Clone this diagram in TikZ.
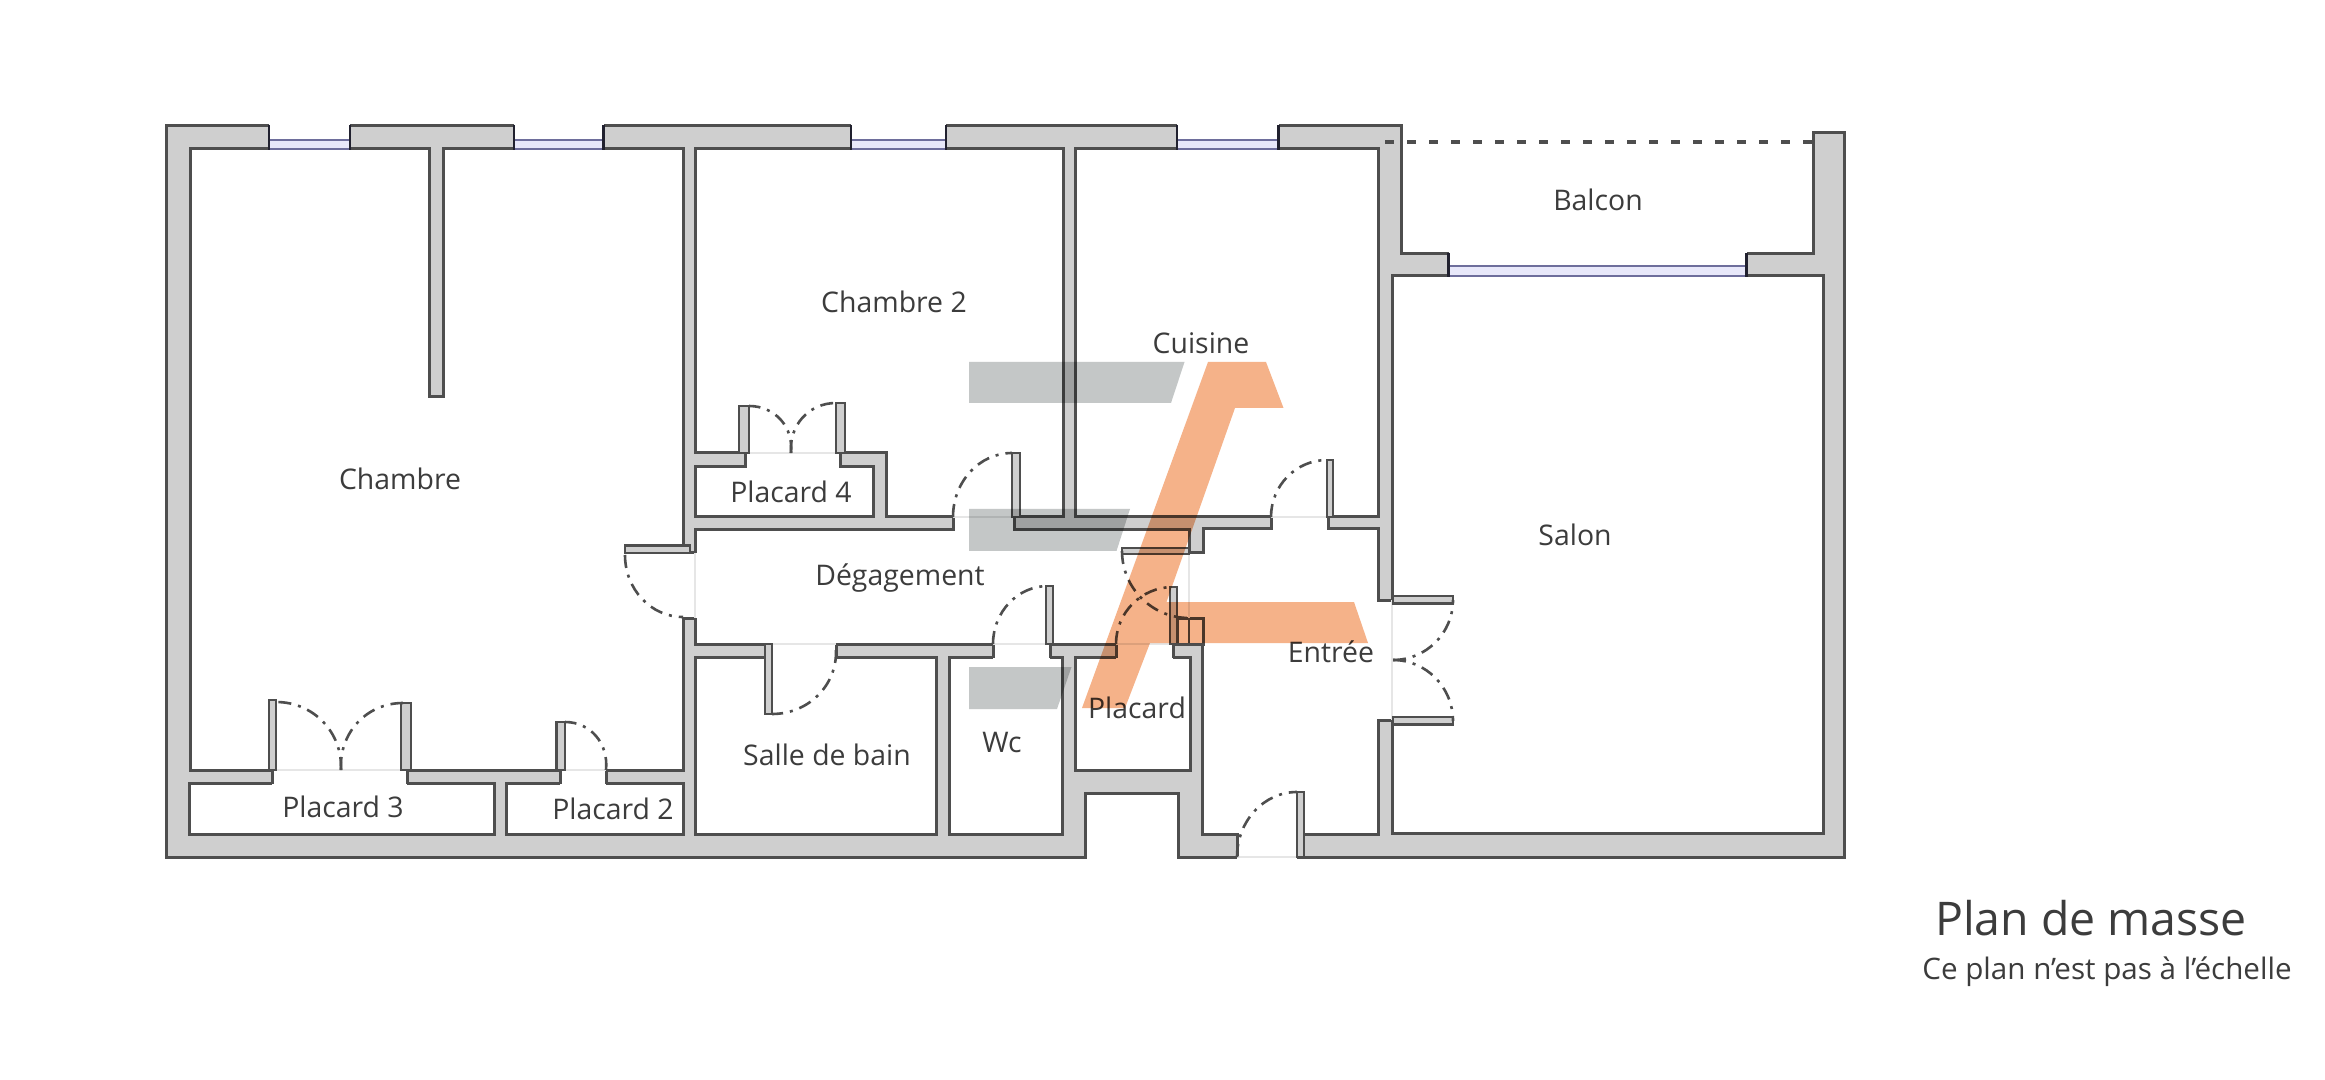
\documentclass[tikz,border=0pt]{standalone}
\usepackage{fontspec}
\setmainfont{Open Sans}
\usetikzlibrary{calc}
\definecolor{wallgray}{HTML}{CFCFCF}
\definecolor{wallink}{HTML}{4E4E4E}
\definecolor{winink}{HTML}{6E6E9C}
\definecolor{winfill}{HTML}{E8E8FA}
\definecolor{sillgray}{HTML}{E6E6E6}
\definecolor{logogray}{HTML}{C4C7C7}
\definecolor{logoorange}{HTML}{F5B289}
\definecolor{labelink}{HTML}{3C3C3C}
\tikzset{
  wallmass/.style={fill=wallgray,draw=wallink,line width=1.5pt,line join=miter},
  roomfloor/.style={fill=white,draw=wallink,line width=1.5pt,line join=miter},
  capline/.style={draw=wallink,line width=1.5pt,line cap=butt},
  sill/.style={draw=sillgray,line width=0.7pt},
  leafwall/.style={fill=wallgray,draw=wallink,line width=1.2pt},
  swing/.style={draw=wallink,line width=1.3pt,dash pattern=on 6.5pt off 3.5pt on 1.5pt off 3.5pt},
  pane/.style={fill=winfill,draw=winink,line width=1.1pt},
  wincap/.style={draw=black!70!winink,line width=1.2pt},
  balconyline/.style={draw=wallink,line width=1.8pt,dash pattern=on 4.5pt off 6.5pt},
  roomlabel/.style={text=labelink,font=\fontsize{14.2}{16}\selectfont,inner sep=0pt,anchor=center},
  titletext/.style={text=labelink,font=\fontsize{23.2}{26}\selectfont,inner sep=0pt,anchor=center},
  notetext/.style={text=labelink,font=\fontsize{14.8}{17}\selectfont,inner sep=0pt,anchor=center},
  logobar/.style={fill=logogray,draw=none,blend mode=multiply},
  logomark/.style={fill=logoorange,draw=none,blend mode=multiply},
}
% quarter-like door swing: centre, start, end
\newcommand{\doorswing}[6]{%
  \pgfmathsetmacro{\cax}{#3+0.5523*(#5-#1)}%
  \pgfmathsetmacro{\cay}{#4+0.5523*(#6-#2)}%
  \pgfmathsetmacro{\cbx}{#5+0.5523*(#3-#1)}%
  \pgfmathsetmacro{\cby}{#6+0.5523*(#4-#2)}%
  \draw[swing] (#3,#4) .. controls (\cax,\cay) and (\cbx,\cby) .. (#5,#6);%
}
\begin{document}
\begin{tikzpicture}[x=0.5pt,y=-0.5pt]
\useasboundingbox (0,0) rectangle (2325,1080);
\fill[white] (0,0) rectangle (2325,1080);
% wall mass
\path[wallmass] (166,126) -- (1401,126) -- (1401,254) -- (1813,254) -- (1813,133) -- (1844,133)
  -- (1844,857) -- (1178,857) -- (1178,793) -- (1085,793) -- (1085,857) -- (166,857) -- cycle;
% rooms
\path[roomfloor] (190,149) -- (429,149) -- (429,397) -- (443,397) -- (443,149) -- (683,149) -- (683,770) -- (190,770) -- cycle;
\path[roomfloor] (189,783) rectangle (494,834);
\path[roomfloor] (506,783) rectangle (683,834);
\path[roomfloor] (695,149) -- (1063,149) -- (1063,517) -- (886,517) -- (886,453) -- (695,453) -- cycle;
\path[roomfloor] (695,467) rectangle (873,517);
\path[roomfloor] (1075,149) rectangle (1378,517);
\path[roomfloor] (1392,276) rectangle (1823,833);
\path[roomfloor] (695,530) -- (1189,530) -- (1189,553) -- (1203,553) -- (1203,529) -- (1378,529) -- (1378,834)
  -- (1202,834) -- (1202,618) -- (1177,618) -- (1177,644) -- (695,644) -- cycle;
\path[roomfloor] (695,657) rectangle (936,834);
\path[roomfloor] (949,657) rectangle (1062,834);
\path[roomfloor] (1075,657) rectangle (1190,770);
% open frame box beside the Placard door
\path[roomfloor] (1177,618) rectangle (1203,644);
\draw[capline,line width=1pt] (1188.5,618) -- (1188.5,644);
% door openings in horizontal walls: x1/x2/y1/y2/sill y
\foreach \xa/\xb/\ya/\yb/\ys in {272/407/770/783/770, 560/606/770/783/770, 745/840/453/467/453,
    953/1014/517/530/517, 1271/1328/517/529/517, 771/836/644/657/644, 993/1050/644/657/644,
    1116/1173/644/657/644, 1237/1297/834/857/857}{
  \fill[white] (\xa,\ya-2) rectangle (\xb,\yb+2);
  \draw[capline] (\xa,\ya-1) -- (\xa,\yb+1);
  \draw[capline] (\xb,\ya-1) -- (\xb,\yb+1);
  \draw[sill] (\xa,\ys) -- (\xb,\ys);
}
% door openings in vertical walls: x1/x2/y1/y2/sill x
\foreach \xa/\xb/\ya/\yb/\xs in {683/695/553/618/695, 1378/1393/600/720/1392}{
  \fill[white] (\xa-2,\ya) rectangle (\xb+2,\yb);
  \draw[capline] (\xa-1,\ya) -- (\xb+1,\ya);
  \draw[capline] (\xa-1,\yb) -- (\xb+1,\yb);
  \draw[sill] (\xs,\ya) -- (\xs,\yb);
}
\draw[sill] (1189,553) -- (1189,618);
% windows: x1/x2/wall top/pane top/pane bottom
\foreach \xa/\xb/\ya/\yp/\yq in {269/350/126/140/149, 514/603.5/126/140/149, 851/945.7/126/140/149,
    1177/1278.6/126/140/149, 1448.5/1746.6/254/266/276}{
  \fill[white] (\xa,\ya-2) rectangle (\xb,\yq+2);
  \path[pane] (\xa,\yp) rectangle (\xb,\yq);
  \draw[wincap] (\xa,\ya-1) -- (\xa,\yq+1);
  \draw[wincap] (\xb,\ya-1) -- (\xb,\yq+1);
}
% door leaves
\foreach \xa/\ya/\xb/\yb in {269/700/276/770, 401/703/411/770, 556.5/722/565/770,
    739/406/749/453, 836/403/845/453, 1012/453/1020/517, 1327/460/1333/517,
    765/644/772/714, 1046/586/1053/644, 625/545.5/690/553, 1122/548/1189/554,
    1170/587/1177/644, 1393/596/1453/603.5, 1393/717/1453/724.5, 1297/792/1304/857}{
  \path[leafwall] (\xa,\ya) rectangle (\xb,\yb);
}
% door swings
\doorswing{273}{770}{341}{770}{276}{702}
\doorswing{407}{770}{341}{770}{403}{703}
\doorswing{560}{770}{606}{770}{565}{722}
\doorswing{744}{453}{791}{453}{749}{406}
\doorswing{840}{453}{791}{453}{836}{403}
\doorswing{1012}{517}{953}{517}{1012}{453}
\doorswing{1327}{517}{1271}{517}{1327}{460}
\doorswing{1048}{644}{993}{644}{1048}{586}
\doorswing{770}{650}{836}{650}{772}{714}
\doorswing{683}{555}{625}{555}{683}{617}
\doorswing{1189}{551}{1122}{551}{1189}{618}
\doorswing{1173}{644}{1116}{644}{1173}{587}
\doorswing{1393}{600}{1393}{660}{1453}{600}
\doorswing{1393}{721}{1393}{660}{1453}{721}
\doorswing{1297}{857}{1237}{857}{1297}{792}
% balcony edge
\coordinate (balconyA) at (1385,142);
\coordinate (balconyB) at (1815,142);
\draw[balconyline] (balconyA) -- (balconyB);
% labels
\node[roomlabel] (chambre) at (400,479) {Chambre};
\node[roomlabel] (chambre2) at (894,302) {Chambre 2};
\node[roomlabel] (cuisine) at (1201,343) {Cuisine};
\node[roomlabel] (balcon) at (1598,200) {Balcon};
\node[roomlabel] (salon) at (1575,535) {Salon};
\node[roomlabel] (placard4) at (791,492) {Placard 4};
\node[roomlabel] (degagement) at (900,578) {Dégagement};
\node[roomlabel] (entree) at (1331,652) {Entrée};
\node[roomlabel] (placard) at (1137,708) {Placard};
\node[roomlabel] (sdb) at (827,755) {Salle de bain};
\node[roomlabel] (wc) at (1002,743) {Wc};
\node[roomlabel] (placard3) at (343,807) {Placard 3};
\node[roomlabel] (placard2) at (613,809) {Placard 2};
\node[titletext] (plantitle) at (2091,918) {Plan de masse};
\node[notetext] (plannote) at (2107,972) {Ce plan n'est pas à l'échelle};
% logo overlay
\path[logobar] (969,362) -- (1184.5,362) -- (1171,403) -- (969,403) -- cycle;
\path[logobar] (969,509) -- (1130,509) -- (1116.5,551) -- (969,551) -- cycle;
\path[logobar] (969,667) -- (1071.5,667) -- (1057,709) -- (969,709) -- cycle;
\path[logomark] (1208,362) -- (1266,362) -- (1283.5,408) -- (1235,408) -- (1166.5,602) -- (1354,602)
  -- (1368,643) -- (1150,643) -- (1125,708) -- (1082,708) -- cycle;
\end{tikzpicture}
\end{document}
